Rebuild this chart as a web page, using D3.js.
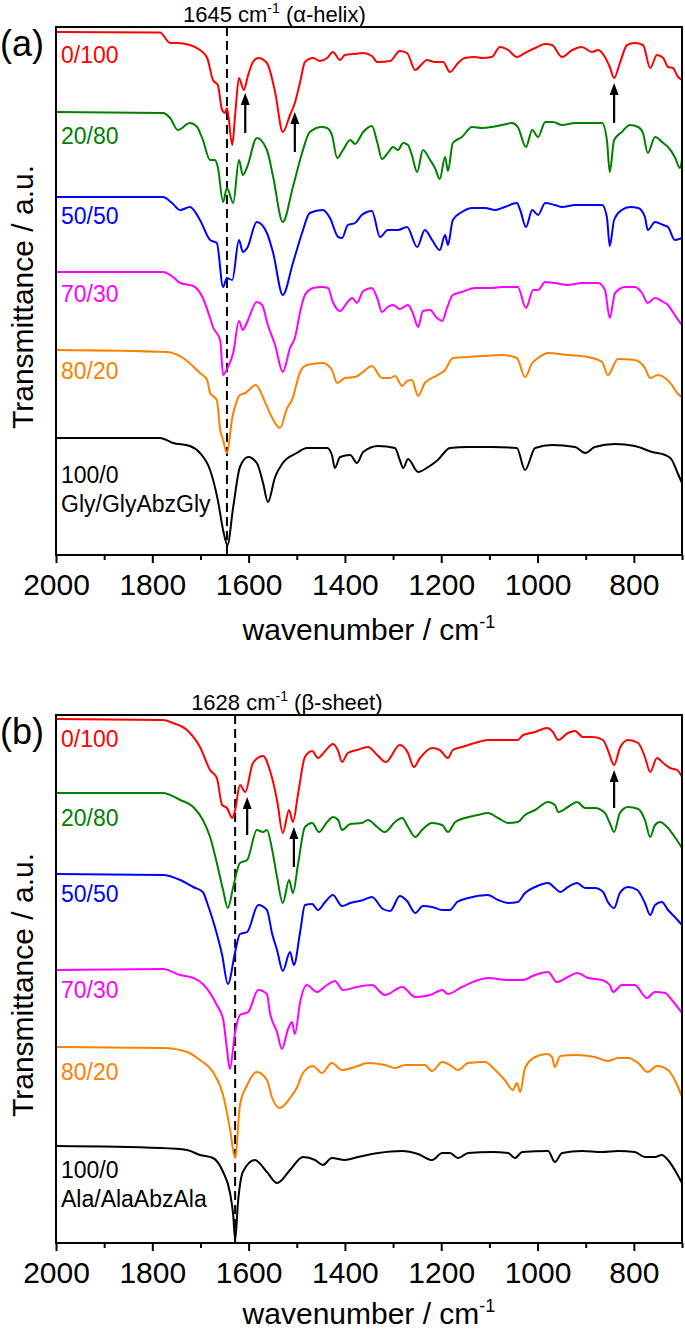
<!DOCTYPE html>
<html><head><meta charset="utf-8">
<script src="https://cdn.jsdelivr.net/npm/d3@7"></script>
<style>
html,body{margin:0;padding:0;background:#fff;}
text{font-family:"Liberation Sans",Arial,sans-serif;}
</style></head>
<body><svg id="c" width="685" height="1329"></svg>
<script>
// ---------- DATA (wavenumber cm-1, transmittance a.u. incl. stacking offset) ----------
const labels = ["0/100","20/80","50/50","70/30","80/20","100/0"];
const colors = ["#ff0000","#008000","#0000ff","#ff00ff","#ff8000","#000000"];
const majorTicks = [2000,1800,1600,1400,1200,1000,800];
const minorTicks = [1900,1700,1500,1300,1100,900,700];

// Panel (a) Gly/GlyAbzGly
const glyA0 = [[2000,52.3],[1784,52.25],[1763,51.2],[1749,51.2],[1722,51.0],[1701,50.5],[1686,49.7],[1674,47.5],[1664,47.0],[1655,44.5],[1649,44.2],[1645,44.7],[1634,41.0],[1628,44.0],[1620,47.7],[1610,46.5],[1601,48.0],[1591,49.3],[1580,49.7],[1562,49.2],[1545,46.3],[1529,42.3],[1514,44.0],[1504,45.2],[1493,47.3],[1483,49.3],[1466,49.7],[1452,49.4],[1437,49.7],[1425,50.3],[1410,49.5],[1400,50.0],[1383,50.1],[1362,50.2],[1344,49.9],[1333,49.3],[1306,49.4],[1286,50.4],[1271,50.2],[1254,48.5],[1240,49.1],[1230,49.5],[1213,49.3],[1196,49.3],[1182,48.3],[1165,49.2],[1151,49.7],[1130,49.8],[1115,49.7],[1095,49.8],[1078,50.8],[1061,50.5],[1043,49.8],[1026,50.2],[1005,50.7],[984,51.1],[970,51.0],[949,49.8],[928,50.5],[908,50.8],[887,50.3],[874,50.5],[860,49.8],[850,48.8],[841,47.7],[829,49.2],[814,51.0],[798,51.2],[781,51.0],[766,48.7],[752,50.0],[739,49.7],[729,48.8],[719,48.7],[708,47.8],[700,47.5]];
const glyA20 = [[2000,44.3],[1778,44.2],[1763,43.7],[1747,42.5],[1722,43.2],[1707,42.8],[1695,41.5],[1680,39.5],[1670,39.5],[1664,38.8],[1653,35.3],[1645,36.7],[1632,35.2],[1620,39.5],[1612,38.0],[1603,38.8],[1583,41.7],[1562,40.5],[1549,37.8],[1529,33.3],[1508,36.8],[1489,40.2],[1473,42.3],[1448,42.8],[1437,42.7],[1427,42.0],[1416,39.7],[1404,40.5],[1389,41.5],[1379,41.1],[1362,42.3],[1344,42.9],[1333,41.3],[1323,39.6],[1311,40.2],[1300,40.8],[1290,40.5],[1279,41.2],[1269,41.0],[1261,40.0],[1250,38.3],[1238,40.5],[1223,39.5],[1213,38.7],[1203,37.6],[1192,39.8],[1186,38.4],[1176,41.2],[1157,41.8],[1136,42.8],[1115,42.7],[1095,42.8],[1074,43.0],[1053,43.2],[1041,42.8],[1024,40.8],[1011,42.5],[999,41.8],[984,43.3],[968,43.3],[949,43.0],[922,43.2],[895,43.2],[866,43.2],[856,41.5],[850,38.3],[841,41.5],[825,42.3],[808,43.0],[791,42.8],[781,42.2],[771,40.2],[756,41.8],[739,41.2],[729,40.8],[715,39.8],[704,38.7],[700,39.5]];
const glyA50 = [[2000,35.8],[1778,35.8],[1759,35.2],[1742,34.5],[1722,34.8],[1701,33.5],[1680,31.5],[1666,31.2],[1653,26.8],[1645,27.7],[1634,27.5],[1620,31.5],[1612,30.3],[1603,30.7],[1583,33.3],[1562,32.2],[1549,30.2],[1529,26.0],[1508,29.2],[1489,32.2],[1473,34.2],[1446,34.5],[1431,33.7],[1414,31.8],[1406,31.7],[1394,33.0],[1379,33.2],[1365,34.0],[1344,34.4],[1327,31.8],[1311,32.5],[1290,32.5],[1271,32.8],[1250,30.8],[1234,32.5],[1219,31.5],[1203,30.5],[1192,32.0],[1186,31.0],[1176,33.5],[1157,34.3],[1136,34.7],[1109,34.7],[1088,34.5],[1068,34.8],[1043,35.2],[1036,34.5],[1024,32.8],[1011,34.5],[999,34.0],[984,35.2],[964,35.0],[949,34.8],[922,35.0],[895,35.0],[866,35.0],[856,33.8],[850,30.9],[841,33.5],[825,34.5],[808,34.8],[791,34.7],[777,33.8],[771,32.5],[756,33.3],[739,33.0],[729,32.8],[715,31.5],[700,31.7]];
const glyA70 = [[2000,28.3],[1778,28.3],[1757,27.8],[1742,27.2],[1715,26.9],[1695,25.7],[1680,23.7],[1674,22.8],[1659,21.5],[1653,18.0],[1643,18.8],[1632,20.2],[1620,23.4],[1612,22.5],[1603,23.3],[1583,25.3],[1572,25.0],[1560,23.0],[1545,21.0],[1529,18.3],[1514,20.7],[1504,21.7],[1493,24.3],[1483,26.0],[1466,26.7],[1448,26.8],[1435,26.7],[1425,25.3],[1410,24.4],[1396,25.2],[1385,25.7],[1375,25.2],[1362,26.4],[1344,26.7],[1333,25.7],[1323,24.3],[1311,24.8],[1300,25.0],[1286,24.6],[1269,25.0],[1259,24.2],[1248,22.8],[1238,24.4],[1223,24.5],[1209,23.7],[1198,23.4],[1188,24.7],[1176,26.0],[1157,26.3],[1130,26.7],[1095,26.7],[1074,26.8],[1041,26.8],[1024,24.7],[1009,26.5],[999,26.5],[984,27.3],[964,27.2],[937,27.0],[908,27.2],[874,27.2],[860,26.5],[850,23.7],[839,26.2],[818,26.8],[798,26.8],[783,26.2],[771,25.2],[756,25.7],[739,25.3],[729,25.0],[719,24.3],[708,23.5],[700,23.0]];
const glyA80 = [[2000,20.5],[1769,20.3],[1736,19.7],[1701,18.2],[1686,17.5],[1680,16.2],[1666,15.5],[1659,12.5],[1653,11.5],[1645,10.2],[1634,13.7],[1626,15.2],[1618,16.0],[1607,16.2],[1585,17.0],[1566,15.3],[1551,13.7],[1535,12.7],[1520,14.7],[1510,15.5],[1493,18.3],[1479,19.0],[1446,19.2],[1427,18.5],[1416,17.2],[1400,17.7],[1379,17.8],[1365,18.2],[1344,18.9],[1323,17.7],[1306,17.7],[1296,17.9],[1281,16.9],[1271,17.4],[1261,17.5],[1248,15.9],[1234,17.2],[1207,18.0],[1192,18.5],[1176,19.7],[1144,19.8],[1115,19.9],[1074,20.0],[1043,19.7],[1026,17.8],[1011,19.2],[999,19.7],[978,20.2],[937,20.0],[895,19.8],[866,19.3],[854,18.0],[833,19.6],[798,19.5],[777,18.7],[766,17.7],[750,18.0],[735,17.7],[721,17.0],[710,16.2],[700,15.8]];
const glyA100 = [[2000,11.7],[1784,11.7],[1757,11.2],[1722,10.9],[1701,10.2],[1680,8.5],[1664,5.5],[1653,2.5],[1644,1.0],[1632,4.8],[1618,8.8],[1601,9.8],[1583,9.2],[1570,7.2],[1560,5.3],[1545,7.8],[1529,9.2],[1500,10.2],[1479,10.7],[1437,10.7],[1427,10.0],[1421,8.7],[1410,9.8],[1389,10.0],[1375,9.2],[1362,10.3],[1331,10.9],[1296,10.7],[1286,9.5],[1279,8.7],[1269,9.6],[1248,8.3],[1227,8.8],[1207,9.5],[1182,10.7],[1144,10.8],[1095,10.8],[1043,10.7],[1026,8.5],[1005,10.7],[970,11.0],[922,10.8],[901,10.2],[881,10.8],[839,11.1],[798,10.9],[762,10.3],[735,10.0],[721,9.5],[710,8.3],[700,7.2]];

// Panel (b) Ala/AlaAbzAla
const alaB0 = [[2000,52.4],[1778,52.3],[1757,52.0],[1728,51.3],[1701,49.6],[1680,47.3],[1666,46.5],[1655,43.8],[1645,43.5],[1634,42.5],[1628,43.3],[1618,45.8],[1607,45.1],[1591,48.0],[1570,48.7],[1556,47.3],[1541,44.3],[1529,41.0],[1516,43.3],[1508,42.1],[1497,45.0],[1483,48.6],[1468,49.2],[1456,48.5],[1441,49.2],[1425,49.9],[1414,49.2],[1406,48.1],[1394,49.0],[1375,49.3],[1352,49.6],[1333,48.8],[1315,48.1],[1286,49.8],[1269,49.0],[1257,47.6],[1244,48.5],[1219,49.5],[1203,49.3],[1186,48.5],[1176,49.3],[1157,49.6],[1130,50.0],[1103,50.3],[1074,50.3],[1041,50.3],[1030,50.8],[1005,51.1],[980,51.5],[968,51.1],[957,50.3],[937,51.0],[922,51.2],[906,50.6],[885,50.6],[864,50.3],[854,49.3],[841,47.8],[829,49.5],[812,50.3],[791,50.0],[777,48.6],[766,47.1],[752,48.5],[739,48.0],[725,47.5],[710,47.3],[700,46.6]];
const alaB20 = [[2000,45.0],[1778,45.0],[1742,44.3],[1715,43.6],[1695,42.3],[1680,40.6],[1666,38.0],[1653,35.3],[1643,33.5],[1632,35.6],[1618,38.0],[1603,38.3],[1583,41.3],[1570,41.1],[1562,41.3],[1551,39.3],[1541,36.6],[1529,34.0],[1516,36.3],[1508,35.0],[1497,38.0],[1483,41.6],[1468,42.0],[1454,41.1],[1437,42.1],[1425,42.6],[1414,42.3],[1406,41.3],[1389,41.9],[1365,42.0],[1352,42.3],[1333,41.6],[1317,41.1],[1296,42.1],[1281,42.5],[1269,41.6],[1254,40.6],[1240,41.3],[1219,42.0],[1198,41.8],[1186,41.1],[1171,42.1],[1151,42.5],[1124,42.8],[1103,43.0],[1082,42.5],[1061,42.0],[1041,42.1],[1026,42.8],[1005,43.3],[978,44.1],[964,43.8],[957,43.1],[937,43.6],[918,44.1],[901,43.5],[881,43.5],[860,43.0],[850,42.0],[841,41.1],[829,43.0],[812,43.6],[791,43.4],[777,42.3],[766,40.6],[756,41.8],[746,42.1],[729,41.5],[715,40.6],[700,39.5]];
const alaB50 = [[2000,36.9],[1778,36.8],[1742,36.3],[1715,35.6],[1695,35.1],[1686,34.0],[1670,31.6],[1655,28.8],[1643,25.9],[1628,29.1],[1618,30.9],[1603,31.1],[1580,33.8],[1562,33.3],[1551,30.9],[1541,29.3],[1529,27.2],[1514,29.1],[1506,27.8],[1493,31.1],[1483,33.8],[1468,33.9],[1456,33.3],[1441,34.1],[1425,34.8],[1406,33.7],[1389,34.0],[1362,34.3],[1344,34.6],[1321,33.4],[1306,33.2],[1286,34.7],[1271,34.2],[1254,33.0],[1238,33.7],[1219,33.6],[1198,33.3],[1182,33.3],[1167,34.1],[1144,34.5],[1103,34.8],[1082,34.3],[1061,34.0],[1041,34.1],[1026,35.0],[1005,35.6],[978,36.0],[964,35.5],[953,35.1],[937,35.6],[918,36.0],[901,35.5],[881,35.5],[864,35.1],[854,34.1],[841,33.5],[829,35.0],[812,35.6],[793,35.3],[777,34.0],[766,32.8],[756,33.8],[742,34.1],[729,33.3],[715,32.6],[700,31.8]];
const alaB70 = [[2000,27.3],[1778,27.4],[1742,26.8],[1715,26.5],[1695,25.9],[1666,23.8],[1653,22.4],[1645,19.4],[1639,17.4],[1628,21.1],[1618,22.8],[1601,23.1],[1580,25.3],[1562,24.9],[1556,23.1],[1541,21.1],[1531,19.4],[1518,21.4],[1510,22.1],[1504,20.9],[1493,24.1],[1479,25.8],[1458,25.1],[1437,25.8],[1421,26.2],[1404,25.3],[1375,25.6],[1344,25.8],[1317,24.8],[1281,25.6],[1254,24.6],[1223,24.8],[1198,25.3],[1186,24.9],[1157,25.6],[1103,26.5],[1061,26.3],[1032,26.3],[1005,26.8],[978,27.1],[960,26.1],[937,26.6],[918,27.0],[895,26.5],[866,26.3],[850,25.8],[843,25.1],[825,25.8],[798,25.8],[773,24.5],[756,25.1],[735,25.0],[721,24.3],[700,23.0]];
const alaB80 = [[2000,19.6],[1778,19.5],[1728,19.1],[1701,18.3],[1674,17.1],[1653,14.8],[1639,11.5],[1628,8.5],[1618,13.8],[1603,15.8],[1583,17.1],[1562,16.3],[1551,14.5],[1535,13.5],[1514,14.5],[1500,15.5],[1487,17.0],[1466,17.7],[1456,17.3],[1448,17.0],[1427,18.0],[1406,17.3],[1379,17.6],[1352,18.0],[1317,17.8],[1296,17.5],[1275,17.8],[1234,17.8],[1219,17.2],[1198,18.1],[1182,17.8],[1165,17.3],[1144,18.0],[1109,18.1],[1088,17.3],[1068,16.3],[1051,15.3],[1043,16.0],[1036,15.1],[1026,17.5],[1005,18.6],[980,18.9],[970,18.6],[964,17.6],[953,18.7],[922,18.8],[881,18.6],[854,18.2],[833,18.5],[812,18.5],[791,18.0],[771,17.1],[752,17.7],[729,17.3],[715,16.3],[700,14.6]];
const alaB100 = [[2000,9.7],[1784,9.5],[1728,9.3],[1701,8.8],[1674,8.5],[1653,7.1],[1639,5.1],[1632,2.8],[1628,0.3],[1622,4.1],[1612,7.1],[1587,8.3],[1562,7.1],[1541,6.0],[1514,7.3],[1487,8.6],[1462,8.3],[1446,7.8],[1427,8.5],[1400,8.3],[1373,8.6],[1331,9.0],[1281,9.2],[1248,8.9],[1219,8.3],[1198,9.0],[1182,9.0],[1165,8.5],[1144,9.0],[1095,9.1],[1061,9.0],[1047,8.5],[1032,9.1],[978,9.2],[964,8.1],[949,9.0],[908,9.2],[866,9.1],[833,9.2],[798,9.1],[777,8.6],[756,8.6],[742,8.8],[729,8.3],[715,7.3],[700,6.0]];

// annotations: [wavenumber, tail value, tip value]
const arrowsA = [[1607,42.2,46.2],[1504,40.3,44.3],[841,43.2,47.2]];
const arrowsB = [[1603,40.8,44.6],[1506,37.6,41.6],[841,43.5,47.3]];
const markerA = 1645, markerB = 1628;

// ---------- LAYOUT ----------
const svg = d3.select("#c");
const L = 56, R = 682, H = 528;
const x = d3.scaleLinear().domain([2000,700]).range([L,R]);
const FONT = '"Liberation Sans",Arial,sans-serif';

function panel(top, series, sampleName, arrows, marker, markerText, tag, labelOffsets, titleY, xTitleGap){
  const y = d3.scaleLinear().domain([0,52.8]).range([top+H, top]);
  const g = svg.append("g");
  const line = d3.line().x(d=>x(d[0])).y(d=>y(d[1])).curve(d3.curveMonotoneX);
  // dashed marker
  g.append("line").attr("x1",x(marker)).attr("x2",x(marker))
    .attr("y1",top).attr("y2",top+H)
    .attr("stroke","#000").attr("stroke-width",2).attr("stroke-dasharray","9,5");
  series.forEach((s,i)=>{
    g.append("path").datum(s).attr("d",line).attr("fill","none")
      .attr("stroke",colors[i]).attr("stroke-width",2).attr("stroke-linejoin","round");
    g.append("text").attr("x",61).attr("y",y(s[0][1])+labelOffsets[i])
      .attr("fill",colors[i]).attr("font-size",23).text(labels[i]);
  });
  g.append("text").attr("x",61).attr("y",y(series[5][0][1])+labelOffsets[5]+29)
    .attr("fill","#000").attr("font-size",23).text(sampleName);
  // arrows
  arrows.forEach(a=>{
    const ax = x(a[0]), yt = y(a[1]), yh = y(a[2]);
    g.append("line").attr("x1",ax).attr("x2",ax).attr("y1",yt).attr("y2",yh+9)
      .attr("stroke","#000").attr("stroke-width",2.2);
    g.append("path").attr("d",`M${ax},${yh} L${ax-4.5},${yh+12} L${ax+4.5},${yh+12} Z`).attr("fill","#000");
  });
  // frame
  g.append("rect").attr("x",L).attr("y",top).attr("width",R-L).attr("height",H)
    .attr("fill","none").attr("stroke","#000").attr("stroke-width",2);
  // axes
  const ax1 = g.append("g").attr("transform",`translate(0,${top+H})`)
    .call(d3.axisBottom(x).tickValues(majorTicks).tickSize(8).tickPadding(11).tickFormat(d3.format("d")));
  ax1.select(".domain").remove();
  ax1.selectAll("line").attr("stroke-width",2);
  ax1.selectAll("text").attr("font-size",30).attr("font-family",FONT).attr("fill","#000");
  const ax2 = g.append("g").attr("transform",`translate(0,${top+H})`)
    .call(d3.axisBottom(x).tickValues(minorTicks).tickSize(5).tickFormat(""));
  ax2.select(".domain").remove();
  ax2.selectAll("line").attr("stroke-width",2);
  // axis titles
  const xt = g.append("text").attr("x",(L+R)/2).attr("y",top+H+xTitleGap).attr("text-anchor","middle").attr("font-size",30);
  xt.append("tspan").text("wavenumber / cm");
  xt.append("tspan").attr("dy",-12).attr("font-size",18).text("-1");
  g.append("text").attr("transform",`translate(33,${titleY}) rotate(-90)`)
    .attr("text-anchor","middle").attr("font-size",30).text("Transmittance / a.u.");
  // marker text
  const mt = g.append("text").attr("x",x(marker)-44).attr("y",top-5).attr("font-size",22);
  mt.append("tspan").text(markerText[0]+" cm");
  mt.append("tspan").attr("dy",-9).attr("font-size",14).text("-1");
  mt.append("tspan").attr("dy",9).text(" ("+markerText[1]+")");
  // panel tag
  g.append("text").attr("x",0).attr("y",top+29).attr("font-size",36).text(tag);
}

panel(27,[glyA0,glyA20,glyA50,glyA70,glyA80,glyA100],"Gly/GlyAbzGly",arrowsA,markerA,["1645","α-helix"],"(a)",[31,32,27,30,29,45],297,85);
panel(715,[alaB0,alaB20,alaB50,alaB70,alaB80,alaB100],"Ala/AlaAbzAla",arrowsB,markerB,["1628","β-sheet"],"(b)",[28,33,28,28,33,32],985,81);
</script></body></html>
